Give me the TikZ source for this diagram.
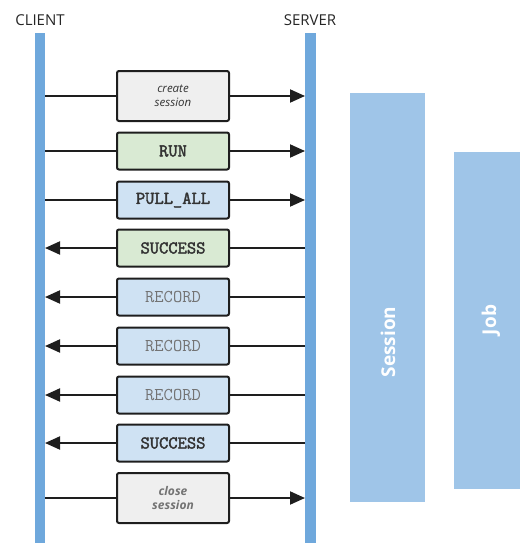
\documentclass[tikz,border=0pt]{standalone}
\usepackage{fontspec}
\setmainfont{Open Sans}
\newfontfamily\bmonof[FakeBold=2.2]{Latin Modern Mono}
\usetikzlibrary{arrows.meta}
\definecolor{barblue}{HTML}{6FA8DC}
\definecolor{lightblue}{HTML}{9FC5E8}
\definecolor{boxgray}{HTML}{EFEFEF}
\definecolor{boxgreen}{HTML}{D9EAD3}
\definecolor{boxblue}{HTML}{CFE2F3}
\definecolor{edge}{HTML}{1E1E1E}
\tikzset{
  msg/.style={draw=edge, line width=2pt, rounded corners=2pt, minimum width=112pt, minimum height=37pt, inner sep=0pt, align=center},
  bmono/.style={font=\bmonof\fontsize{18}{18}\selectfont, text=black!80},
  rmono/.style={font=\ttfamily\fontsize{18}{18}\selectfont, text=black!55},
  conn/.style={line width=2pt, draw=edge},
  arr/.style={conn, -{Triangle[length=15pt,width=13pt]}},
  barstyle/.style={fill=barblue, draw=none},
  region/.style={fill=lightblue, draw=none},
}
\begin{document}
\begin{tikzpicture}[x=1pt,y=-1pt]
\useasboundingbox (0,0) rectangle (520,543);
% lifelines
\fill[barstyle] (35,33) rectangle (45,543);
\fill[barstyle] (305,33) rectangle (316,543);
\coordinate (cx) at (45,0);
\coordinate (sx) at (305,0);
\node[font=\fontsize{15}{16}\selectfont, text=black!85] (client) at (40,20) {CLIENT};
\node[font=\fontsize{15}{16}\selectfont, text=black!85] (server) at (310,20) {SERVER};
% regions
\fill[region] (350,93) rectangle (425,502);
\fill[region] (454,152) rectangle (520,489);
\node[rotate=90, text=white, font=\bfseries\fontsize{19}{20}\selectfont] (sess) at (388,342) {Session};
\node[rotate=90, text=white, font=\bfseries\fontsize{19}{20}\selectfont] (job) at (491,320) {Job};
% messages
\node[msg, fill=boxgray, minimum height=50pt, text=black!80, font=\itshape\fontsize{11.5}{14}\selectfont] (m1) at (173,96) {create\\session};
\node[msg, fill=boxgreen, bmono] (m2) at (173,151) {RUN};
\node[msg, fill=boxblue, bmono] (m3) at (173,200) {PULL\_ALL};
\node[msg, fill=boxgreen, bmono] (m4) at (173,248) {SUCCESS};
\node[msg, fill=boxblue, rmono] (m5) at (173,297) {RECORD};
\node[msg, fill=boxblue, rmono] (m6) at (173,346) {RECORD};
\node[msg, fill=boxblue, rmono] (m7) at (173,395) {RECORD};
\node[msg, fill=boxblue, bmono] (m8) at (173,443) {SUCCESS};
\node[msg, fill=boxgray, minimum height=50pt, text=black!55, font=\bfseries\itshape\fontsize{12}{14}\selectfont] (m9) at (173,498) {close\\session};
% client -> server
\foreach \m in {m1,m2,m3,m9}{
  \draw[conn] (cx |- \m.west) -- (\m.west);
  \draw[arr] (\m.east) -- (sx |- \m.east);
}
% server -> client
\foreach \m in {m4,m5,m6,m7,m8}{
  \draw[conn] (sx |- \m.east) -- (\m.east);
  \draw[arr] (\m.west) -- (cx |- \m.west);
}
\end{tikzpicture}
\end{document}
